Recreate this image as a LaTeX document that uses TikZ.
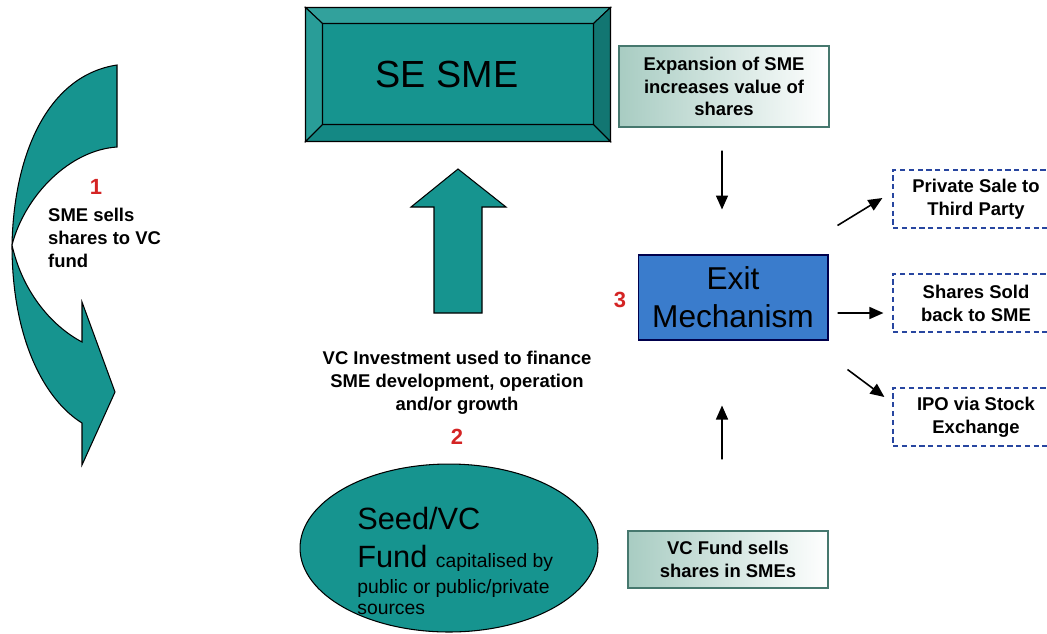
\documentclass[tikz,border=0pt]{standalone}
\usepackage{fontspec}
\setmainfont{Liberation Sans}
\usetikzlibrary{shapes}
\usetikzlibrary{positioning}
\usetikzlibrary{arrows.meta}
\definecolor{smeteal}{RGB}{22,148,143}
\definecolor{exitblue}{RGB}{58,124,204}
\definecolor{numred}{RGB}{212,36,36}
\definecolor{notegreen}{RGB}{168,204,194}
\definecolor{noteedge}{RGB}{70,120,110}
\definecolor{optblue}{RGB}{40,70,160}
\newcommand{\lblfont}{\fontsize{10.5}{13}\selectfont\bfseries}
\newcommand{\bigfont}{\fontsize{17.5}{20}\selectfont}
\newcommand{\smallfont}{\fontsize{11}{13}\selectfont}
\tikzset{
    tealshape/.style = {draw=black, fill=smeteal, line width=0.6pt},
    face/.style = {draw=black, line width=0.6pt},
    smebox/.style = {rectangle, draw=black, fill=smeteal, line width=0.6pt, minimum width=6.08cm, minimum height=2.66cm, font=\fontsize{21.5}{24}\selectfont},
    fundshape/.style = {ellipse, draw=black, fill=smeteal, line width=0.6pt, minimum width=5.96cm, minimum height=3.36cm},
    notebox/.style = {rectangle, draw=noteedge, line width=0.8pt, left color=notegreen, right color=white, minimum width=4.2cm, minimum height=1.62cm, align=center, font=\lblfont},
    exitbox/.style = {rectangle, draw=black!70!blue, fill=exitblue, line width=0.6pt, minimum width=3.8cm, minimum height=1.7cm, align=center, font=\fontsize{18}{21.5}\selectfont},
    optbox/.style = {rectangle, draw=optblue, line width=0.7pt, dash pattern=on 3pt off 2pt, minimum width=3.32cm, minimum height=1.16cm, align=center, font=\lblfont},
    lbl/.style = {align=center, font=\lblfont},
    numlbl/.style = {text=numred, font=\fontsize{12.5}{14}\selectfont\bfseries},
    fundtxt/.style = {anchor=base west, inner sep=0pt},
    edgen/.style = {-{Triangle[length=0.28cm,width=0.24cm]}, line width=0.9pt}
}
\begin{document}
\begin{tikzpicture}[x=0.02cm, y=-0.02cm]
\useasboundingbox (0,0) rectangle (1047,633);

% step 1: the curved arrow on the left
\draw[tealshape] (117,65) .. controls (50,75) and (14,150) .. (12,245)
    .. controls (12,340) and (45,400) .. (82,423) -- (82,465) -- (115,392)
    -- (82,302) -- (82,342) .. controls (50,325) and (22,290) .. (12,245)
    .. controls (25,195) and (70,150) .. (117,147) -- cycle;
\node[numlbl] (num1) at (96,187) {1};
\node[lbl, align=left, anchor=west] (sells) at (42,238) {SME sells\\shares to VC\\fund};

% the SME, bevelled box
\node[smebox] (sme) at (458,74.5) {};
\coordinate (smeA) at ([xshift=0.34cm,yshift=-0.32cm]sme.north west);
\coordinate (smeB) at ([xshift=-0.34cm,yshift=-0.32cm]sme.north east);
\coordinate (smeC) at ([xshift=-0.34cm,yshift=0.34cm]sme.south east);
\coordinate (smeD) at ([xshift=0.34cm,yshift=0.34cm]sme.south west);
\draw[face, fill=smeteal!88!white] (sme.north west) -- (sme.north east) -- (smeB) -- (smeA) -- cycle;
\draw[face, fill=smeteal!92!white] (sme.north west) -- (smeA) -- (smeD) -- (sme.south west) -- cycle;
\draw[face, fill=smeteal!80!black] (sme.north east) -- (sme.south east) -- (smeC) -- (smeB) -- cycle;
\draw[face, fill=smeteal!92!black] (sme.south west) -- (smeD) -- (smeC) -- (sme.south east) -- cycle;
\node[font=\fontsize{21.5}{24}\selectfont] (smetext) at (447,74.5) {SE SME};

% step 2: investment
\draw[tealshape] (434,313) -- (434,207) -- (411,207) -- (458,169) -- (506,207)
    -- (482,207) -- (482,313) -- cycle;
\node[lbl] (invest) at (457,383) {VC Investment used to finance\\SME development, operation\\and/or growth};
\node[numlbl] (num2) at (457,437) {2};
\node[fundshape] (fund) at (449,548) {};
\node[fundtxt, font=\bigfont] (fundA) at (357,529) {Seed/VC};
\node[fundtxt, font=\bigfont] (fundB) at (357,567) {Fund {\smallfont capitalised by}};
\node[fundtxt, font=\smallfont] (fundC) at (357,593) {public or public/private};
\node[fundtxt, font=\smallfont] (fundD) at (357,614) {sources};

% step 3: exit
\node[notebox] (expand) at (724,86.5) {Expansion of SME\\increases value of\\shares};
\node[exitbox] (exit) at (733,297.5) {Exit\\Mechanism};
\node[numlbl] (num3) at (620,300) {3};
\node[notebox, minimum width=4cm, minimum height=1.14cm] (fundsells) at (728,559.5) {VC Fund sells\\shares in SMEs};
\node[optbox] (private) at (976,199) {Private Sale to\\Third Party};
\node[optbox] (buyback) at (976,303) {Shares Sold\\back to SME};
\node[optbox] (ipo) at (976,417) {IPO via Stock\\Exchange};

\draw[edgen, shorten <=0.46cm, shorten >=0.9cm] ([xshift=-0.04cm]expand.south) -- ([xshift=-0.22cm]exit.north);
\draw[edgen, shorten <=1.42cm, shorten >=1.3cm] ([xshift=-0.12cm]fundsells.north) -- ([xshift=-0.22cm]exit.south);
\draw[edgen] ([xshift=0.18cm,yshift=0.58cm]exit.north east) -- ([xshift=-0.2cm,yshift=0.02cm]private.west);
\draw[edgen] ([xshift=0.18cm,yshift=-0.31cm]exit.east) -- ([xshift=-0.18cm,yshift=-0.2cm]buyback.west);
\draw[edgen] ([xshift=0.38cm,yshift=-0.58cm]exit.south east) -- ([xshift=-0.16cm,yshift=0.4cm]ipo.west);

\end{tikzpicture}
\end{document}
